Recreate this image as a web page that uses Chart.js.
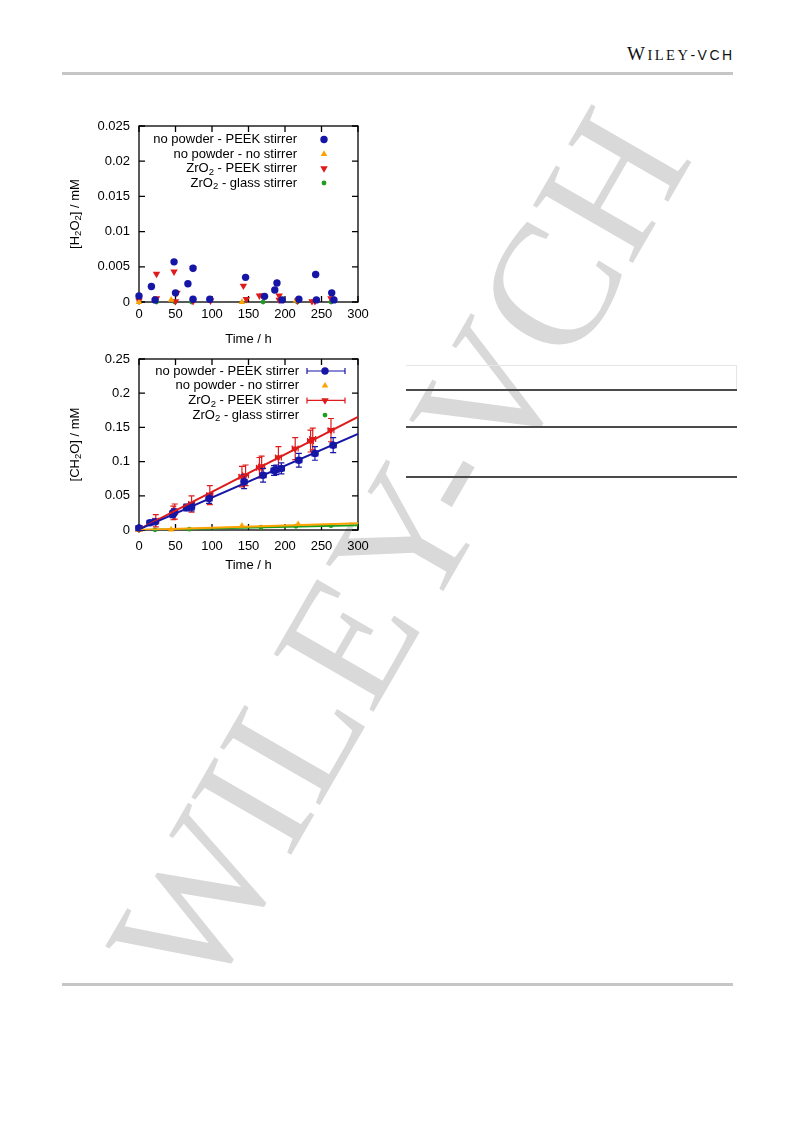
<!DOCTYPE html>
<html>
<head>
<meta charset="utf-8">
<script src="https://cdn.jsdelivr.net/npm/chart.js@4.4.0/dist/chart.umd.min.js"></script>
<style>
html, body { margin: 0; padding: 0; background: #fff; }
body { width: 793px; height: 1123px; position: relative; overflow: hidden; font-family: "Liberation Sans", Arial, sans-serif; }
#page { position: absolute; left: 0; top: 0; z-index: 0; }
.rule { position: absolute; left: 62px; width: 671px; height: 3px; background: #c6c6c6; z-index: 1; }
.tline { position: absolute; left: 406px; width: 331px; height: 2px; background: #4a4a4a; z-index: 1; }
canvas { position: absolute; z-index: 2; }
</style>
</head>
<body>
<svg id="page" width="793" height="1123">
  <text x="205" y="1004" transform="rotate(-60 205 1004)" font-family="Liberation Serif, Times New Roman, serif" font-size="176" fill="#d9d9d9">WILEY-VCH</text>
  <text x="627" y="60" fill="#111" letter-spacing="2.5"><tspan font-family="Liberation Serif, serif" font-size="19">W</tspan><tspan font-family="Liberation Serif, serif" font-size="14.5">ILEY</tspan><tspan font-family="Liberation Sans, Arial, sans-serif" font-size="14">-VCH</tspan></text>
</svg>
<div class="rule" style="top:72px"></div>
<div class="rule" style="top:983px"></div>

<div style="position:absolute;left:406px;top:365px;width:330px;height:24px;border-top:1px solid #e6e6e6;border-right:1px solid #e6e6e6;z-index:1"></div>
<div class="tline" style="top:389px"></div>
<div class="tline" style="top:426px"></div>
<div class="tline" style="top:476px"></div>

<canvas id="h2o2" width="310" height="245" style="left:60px;top:110px"></canvas>
<canvas id="ch2o" width="310" height="245" style="left:60px;top:345px"></canvas>

<script>
// tick values
var timeTicks = [0, 50, 100, 150, 200, 250, 300]
var h2o2Ticks = [0, 0.005, 0.01, 0.015, 0.02, 0.025]
var ch2oTicks = [0, 0.05, 0.1, 0.15, 0.2, 0.25]

var seriesNames = ["no powder - PEEK stirrer", "no powder - no stirrer", "ZrO₂ - PEEK stirrer", "ZrO₂ - glass stirrer"]
var seriesColors = ["#1616a6", "#ffa200", "#de1a1a", "#1e9e1e"]

// [H2O2] plot
var h2o2PeekT = [0, 17, 22, 48, 50, 67, 74, 74, 97, 146, 172, 186, 189, 196, 219, 242, 243, 264, 267]
var h2o2PeekC = [0.00085, 0.0022, 0.0003, 0.0057, 0.0013, 0.0026, 0.0048, 0.0004, 0.0004, 0.0035, 0.0008, 0.0017, 0.0027, 0.0003, 0.0004, 0.0039, 0.0003, 0.0013, 0.0003]
var h2o2NoneT = [0, 44, 141, 215]
var h2o2NoneC = [0, 0.0003, 0, 0.0002]
var h2o2ZrPeekT = [0, 24, 24, 48, 50, 52, 74, 74, 98, 143, 147, 165, 169, 192, 192, 217, 237, 241, 263]
var h2o2ZrPeekC = [0.0002, 0.004, 0.0005, 0.0043, 0.0001, 0.0013, 0.0048, 0.0001, 0.0002, 0.0023, 0.0004, 0.0009, 0.0009, 0.0009, 0.0003, 0.0002, 0.0001, 0.0001, 0.0005]
var h2o2ZrGlassT = [0, 24, 49, 72, 170, 217, 263]
var h2o2ZrGlassC = [0, 0, 0, 0, 0, 0, 0]

// [CH2O] plot
var ch2oPeekT = [0, 15, 22, 46, 48, 65, 72, 96, 144, 170, 185, 188, 195, 219, 241, 266]
var ch2oPeekC = [0.003, 0.0107, 0.012, 0.023, 0.026, 0.033, 0.034, 0.046, 0.0706, 0.080, 0.087, 0.088, 0.090, 0.102, 0.112, 0.124]
var ch2oPeekErr = [0.001, 0.002, 0.003, 0.005, 0.005, 0.005, 0.006, 0.007, 0.010, 0.010, 0.007, 0.007, 0.008, 0.010, 0.010, 0.011]
var ch2oNoneT = [0, 44, 141, 218]
var ch2oNoneC = [0, 0.0005, 0.006, 0.0085]
var ch2oZrPeekT = [0, 23, 47, 49, 72, 97, 141, 146, 165, 168, 191, 214, 235, 238, 263]
var ch2oZrPeekC = [0.0015, 0.0136, 0.025, 0.027, 0.038, 0.051, 0.078, 0.080, 0.091, 0.093, 0.106, 0.119, 0.130, 0.133, 0.146]
var ch2oZrPeekErr = [0.002, 0.009, 0.010, 0.011, 0.012, 0.014, 0.015, 0.015, 0.015, 0.015, 0.016, 0.016, 0.016, 0.016, 0.017]
var ch2oZrGlassT = [0, 22, 69, 167, 215, 263]
var ch2oZrGlassC = [0, 0.0003, 0.0012, 0.004, 0.0055, 0.0063]
var timeErr = 4

// linear fits, read at both ends of the time axis
var fitT = [0, 300]
var fitPeek = [0.001, 0.1405]
var fitNone = [0, 0.0098]
var fitZrPeek = [0.001, 0.1655]
var fitZrGlass = [0, 0.0069]

var FONT = '"Liberation Sans", Arial, sans-serif'
Chart.defaults.font.family = FONT
Chart.defaults.font.size = 13
Chart.defaults.color = "#000"

function pts(t, c) {
	return t.map(function(x, i){ return {x: x, y: c[i]} })
}

// text with ₂ drawn as a real lowered subscript
function drawRich(ctx, str, x, y, align) {
	var parts = str.split(/(₂)/).filter(function(s){ return s })
	var big = "13px " + FONT, small = "9.5px " + FONT
	var w = 0
	parts.forEach(function(p){
		ctx.font = p == "₂" ? small : big
		w += ctx.measureText(p == "₂" ? "2" : p).width
	})
	var cx = align == "right" ? x - w : (align == "center" ? x - w / 2 : x)
	ctx.textAlign = "left"
	ctx.textBaseline = "middle"
	parts.forEach(function(p){
		var sub = p == "₂"
		ctx.font = sub ? small : big
		ctx.fillText(sub ? "2" : p, cx, sub ? y + 3.5 : y)
		cx += ctx.measureText(sub ? "2" : p).width
	})
}

function marker(i) {
	if (i == 0) return {pointStyle: "circle", pointRadius: 3.7, rotation: 0}
	if (i == 1) return {pointStyle: "triangle", pointRadius: 3.8, rotation: 0}
	if (i == 2) return {pointStyle: "triangle", pointRadius: 4.3, rotation: 180}
	return {pointStyle: "circle", pointRadius: 2.4, rotation: 0}
}

function pointSet(i, t, c, err) {
	var m = marker(i)
	return {
		label: seriesNames[i],
		data: pts(t, c),
		backgroundColor: seriesColors[i],
		borderColor: seriesColors[i],
		borderWidth: 0,
		pointStyle: m.pointStyle,
		pointRadius: m.pointRadius,
		rotation: m.rotation,
		clip: false,
		order: 1,
		errY: err || null,
		inLegend: true
	}
}

function fitSet(i, c) {
	return {
		data: pts(fitT, c),
		showLine: true,
		borderColor: seriesColors[i],
		backgroundColor: seriesColors[i],
		borderWidth: 2,
		pointRadius: 0,
		order: 0,
		inLegend: false
	}
}

// gnuplot style border with inward ticks on all sides
var gnuFrame = {
	id: "gnuFrame",
	beforeDatasetsDraw: function(chart) {
		var ctx = chart.ctx, a = chart.chartArea, x = chart.scales.x, y = chart.scales.y
		ctx.save()
		ctx.strokeStyle = "#000"
		ctx.lineWidth = 1.3
		ctx.strokeRect(a.left, a.top, a.right - a.left, a.bottom - a.top)
		ctx.beginPath()
		x.ticks.forEach(function(t){
			var px = x.getPixelForValue(t.value)
			ctx.moveTo(px, a.bottom); ctx.lineTo(px, a.bottom - 6)
			ctx.moveTo(px, a.top); ctx.lineTo(px, a.top + 6)
		})
		y.ticks.forEach(function(t){
			var py = y.getPixelForValue(t.value)
			ctx.moveTo(a.left, py); ctx.lineTo(a.left + 6, py)
			ctx.moveTo(a.right, py); ctx.lineTo(a.right - 6, py)
		})
		ctx.stroke()
		// rotated y title
		ctx.fillStyle = "#000"
		ctx.translate(y.left + 15, (a.top + a.bottom) / 2)
		ctx.rotate(-Math.PI / 2)
		drawRich(ctx, chart.options.plugins.gnuFrame.yTitle, 0, 0, "center")
		ctx.restore()
	}
}

var errorBars = {
	id: "errorBars",
	beforeDatasetDraw: function(chart, args) {
		var ds = chart.data.datasets[args.index]
		if (!ds.errY) return
		var ctx = chart.ctx, x = chart.scales.x, y = chart.scales.y
		ctx.save()
		ctx.strokeStyle = ds.borderColor
		ctx.lineWidth = 1.2
		ctx.beginPath()
		ds.data.forEach(function(p, i){
			var px = x.getPixelForValue(p.x)
			var y0 = y.getPixelForValue(p.y - ds.errY[i]), y1 = y.getPixelForValue(p.y + ds.errY[i])
			var py = y.getPixelForValue(p.y)
			var x0 = x.getPixelForValue(p.x - timeErr), x1 = x.getPixelForValue(p.x + timeErr)
			ctx.moveTo(px, y0); ctx.lineTo(px, y1)
			ctx.moveTo(px - 3, y0); ctx.lineTo(px + 3, y0)
			ctx.moveTo(px - 3, y1); ctx.lineTo(px + 3, y1)
			ctx.moveTo(x0, py); ctx.lineTo(x1, py)
			ctx.moveTo(x0, py - 3); ctx.lineTo(x0, py + 3)
			ctx.moveTo(x1, py - 3); ctx.lineTo(x1, py + 3)
		})
		ctx.stroke()
		ctx.restore()
	}
}

var gnuLegend = {
	id: "gnuLegend",
	afterDraw: function(chart, args, opts) {
		var ctx = chart.ctx, a = chart.chartArea
		var row = 0
		chart.data.datasets.forEach(function(ds){
			if (!ds.inLegend) return
			var yy = a.top + opts.top + row * opts.step
			ctx.save()
			ctx.fillStyle = "#000"
			drawRich(ctx, ds.label, a.right + opts.textRight, yy, "right")
			var mx = a.right + opts.mark
			ctx.strokeStyle = ds.borderColor
			ctx.fillStyle = ds.backgroundColor
			if (ds.errY) {
				ctx.lineWidth = 1.2
				ctx.beginPath()
				ctx.moveTo(a.right + opts.bar0, yy); ctx.lineTo(a.right + opts.bar1, yy)
				ctx.moveTo(a.right + opts.bar0, yy - 3); ctx.lineTo(a.right + opts.bar0, yy + 3)
				ctx.moveTo(a.right + opts.bar1, yy - 3); ctx.lineTo(a.right + opts.bar1, yy + 3)
				ctx.stroke()
			}
			ctx.lineWidth = 0
			Chart.helpers.drawPoint(ctx, {pointStyle: ds.pointStyle, rotation: ds.rotation, radius: ds.pointRadius, borderWidth: 0}, mx, yy)
			ctx.restore()
			row++
		})
	}
}

function makeOptions(o) {
	return {
		responsive: false,
		animation: false,
		events: [],
		layout: {padding: {top: o.padTop, right: 12, left: 0, bottom: 0}},
		scales: {
			x: {
				type: "linear", min: 0, max: 300,
				grid: {display: false, drawTicks: false},
				border: {display: false},
				afterBuildTicks: function(s){ s.ticks = timeTicks.map(function(v){ return {value: v} }) },
				afterFit: function(s){ s.height = o.xHeight; s.paddingLeft = 0; s.paddingRight = 0 },
				ticks: {padding: o.xPad, callback: function(v){ return String(v) }},
				title: {display: true, text: "Time / h", padding: {top: 0, bottom: o.titlePad}}
			},
			y: {
				type: "linear", min: 0, max: o.yTicks[o.yTicks.length - 1],
				grid: {display: false, drawTicks: false},
				border: {display: false},
				afterBuildTicks: function(s){ s.ticks = o.yTicks.map(function(v){ return {value: v} }) },
				afterFit: function(s){ s.width = 79; s.paddingTop = 0; s.paddingBottom = 0 },
				ticks: {padding: 9, callback: function(v){ return String(v) }}
			}
		},
		plugins: {
			legend: {display: false},
			tooltip: {enabled: false},
			gnuFrame: {yTitle: o.yTitle},
			gnuLegend: o.legend
		}
	}
}

new Chart(document.getElementById("h2o2"), {
	type: "scatter",
	data: {
		datasets: [
			pointSet(0, h2o2PeekT, h2o2PeekC),
			pointSet(1, h2o2NoneT, h2o2NoneC),
			pointSet(2, h2o2ZrPeekT, h2o2ZrPeekC),
			pointSet(3, h2o2ZrGlassT, h2o2ZrGlassC)
		]
	},
	options: makeOptions({
		padTop: 16, xHeight: 53, xPad: 5, titlePad: 8, yTicks: h2o2Ticks,
		yTitle: "[H₂O₂] / mM",
		legend: {top: 13.5, step: 14.5, textRight: -61, mark: -34}
	}),
	plugins: [gnuFrame, errorBars, gnuLegend]
})

new Chart(document.getElementById("ch2o"), {
	type: "scatter",
	data: {
		datasets: [
			pointSet(0, ch2oPeekT, ch2oPeekC, ch2oPeekErr),
			pointSet(1, ch2oNoneT, ch2oNoneC),
			pointSet(2, ch2oZrPeekT, ch2oZrPeekC, ch2oZrPeekErr),
			pointSet(3, ch2oZrGlassT, ch2oZrGlassC),
			fitSet(0, fitPeek),
			fitSet(1, fitNone),
			fitSet(2, fitZrPeek),
			fitSet(3, fitZrGlass)
		]
	},
	options: makeOptions({
		padTop: 14, xHeight: 60, xPad: 9, titlePad: 16.7, yTicks: ch2oTicks,
		yTitle: "[CH₂O] / mM",
		legend: {top: 12, step: 14.7, textRight: -59, mark: -33, bar0: -51, bar1: -13}
	}),
	plugins: [gnuFrame, errorBars, gnuLegend]
})
</script>
</body>
</html>
